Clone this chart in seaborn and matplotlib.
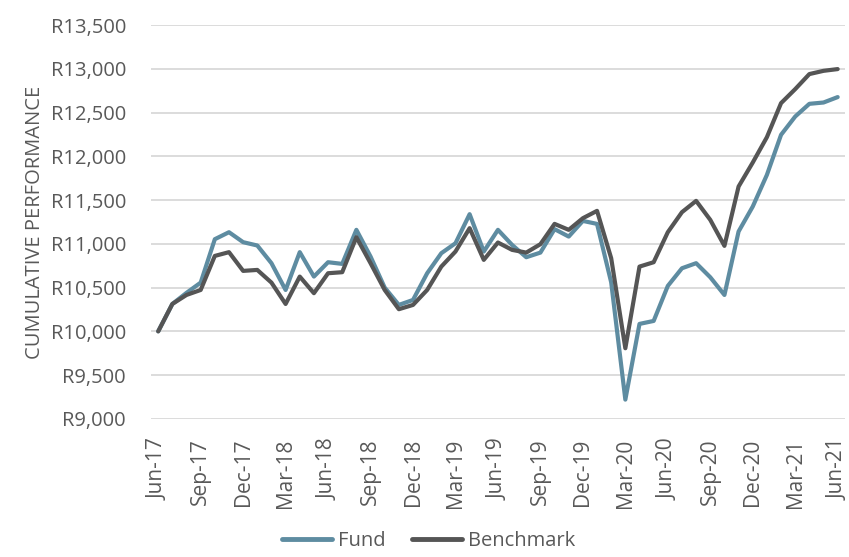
import pandas as pd
import matplotlib.pyplot as plt
import seaborn as sns

sns.set_style('white')
plt.rcParams['font.family'] = ['Open Sans', 'DejaVu Sans']

months = pd.date_range('2017-06-01', '2021-06-01', freq='MS')
month_labels = [d.strftime('%b-%y') for d in months]

fund = [10000, 10313, 10440, 10557, 11053, 11133, 11019, 10981, 10779, 10473,
        10905, 10626, 10790, 10771, 11160, 10855, 10500, 10302, 10359, 10664,
        10893, 11007, 11339, 10912, 11160, 10988, 10847, 10900, 11168, 11083,
        11262, 11228, 10560, 9220, 10085, 10119, 10519, 10721, 10779, 10618,
        10416, 11141, 11426, 11788, 12246, 12455, 12600, 12615, 12677]
benchmark = [10000, 10313, 10416, 10473, 10862, 10905, 10691, 10702, 10557, 10313,
             10626, 10436, 10664, 10676, 11076, 10779, 10473, 10253, 10302, 10473,
             10740, 10912, 11179, 10817, 11015, 10931, 10900, 10996, 11228, 11160,
             11293, 11377, 10836, 9807, 10740, 10790, 11133, 11362, 11491, 11274,
             10977, 11655, 11929, 12219, 12608, 12768, 12940, 12977, 12997]

df = pd.DataFrame({'idx': range(len(months)), 'Fund': fund, 'Benchmark': benchmark})
long = df.melt(id_vars='idx', var_name='series', value_name='value')

fund_col = '#5e8ca1'
bench_col = '#555555'
txt_col = '#595959'

fig = plt.figure(figsize=(8.49, 5.57), dpi=100)
ax = fig.add_axes([0.178, 0.248, 0.817, 0.707])
sns.lineplot(data=long, x='idx', y='value', hue='series', ax=ax,
             palette={'Fund': fund_col, 'Benchmark': bench_col}, linewidth=3, legend=False)

ax.set_xlim(-0.5, 48.5)
ax.set_ylim(9000, 13500)
ax.set_yticks(range(9000, 13501, 500))
ax.set_yticklabels([f'R{v:,}' for v in range(9000, 13501, 500)])
ax.set_xticks(range(0, 49, 3))
ax.set_xticklabels(month_labels[::3], rotation=90)
ax.grid(axis='y', color='#d9d9d9', linewidth=1.3)
ax.set_axisbelow(True)
sns.despine(ax=ax, left=True, bottom=True)
ax.tick_params(axis='both', length=0, labelsize=14.5, labelcolor=txt_col)
ax.tick_params(axis='y', pad=18)
ax.tick_params(axis='x', pad=14, labelsize=15)
ax.set_xlabel('')
ax.set_ylabel('CUMULATIVE PERFORMANCE', fontsize=14.5, color=txt_col, labelpad=4)

handles = [plt.Line2D([], [], color=fund_col, lw=3.5), plt.Line2D([], [], color=bench_col, lw=3.5)]
fig.legend(handles, ['Fund', 'Benchmark'], loc='lower center', ncol=2, frameon=False,
           fontsize=14.5, bbox_to_anchor=(0.505, -0.022), handlelength=2.5, columnspacing=1.3,
           handletextpad=0.3, labelcolor=txt_col)

plt.savefig('out.png', dpi=100)
